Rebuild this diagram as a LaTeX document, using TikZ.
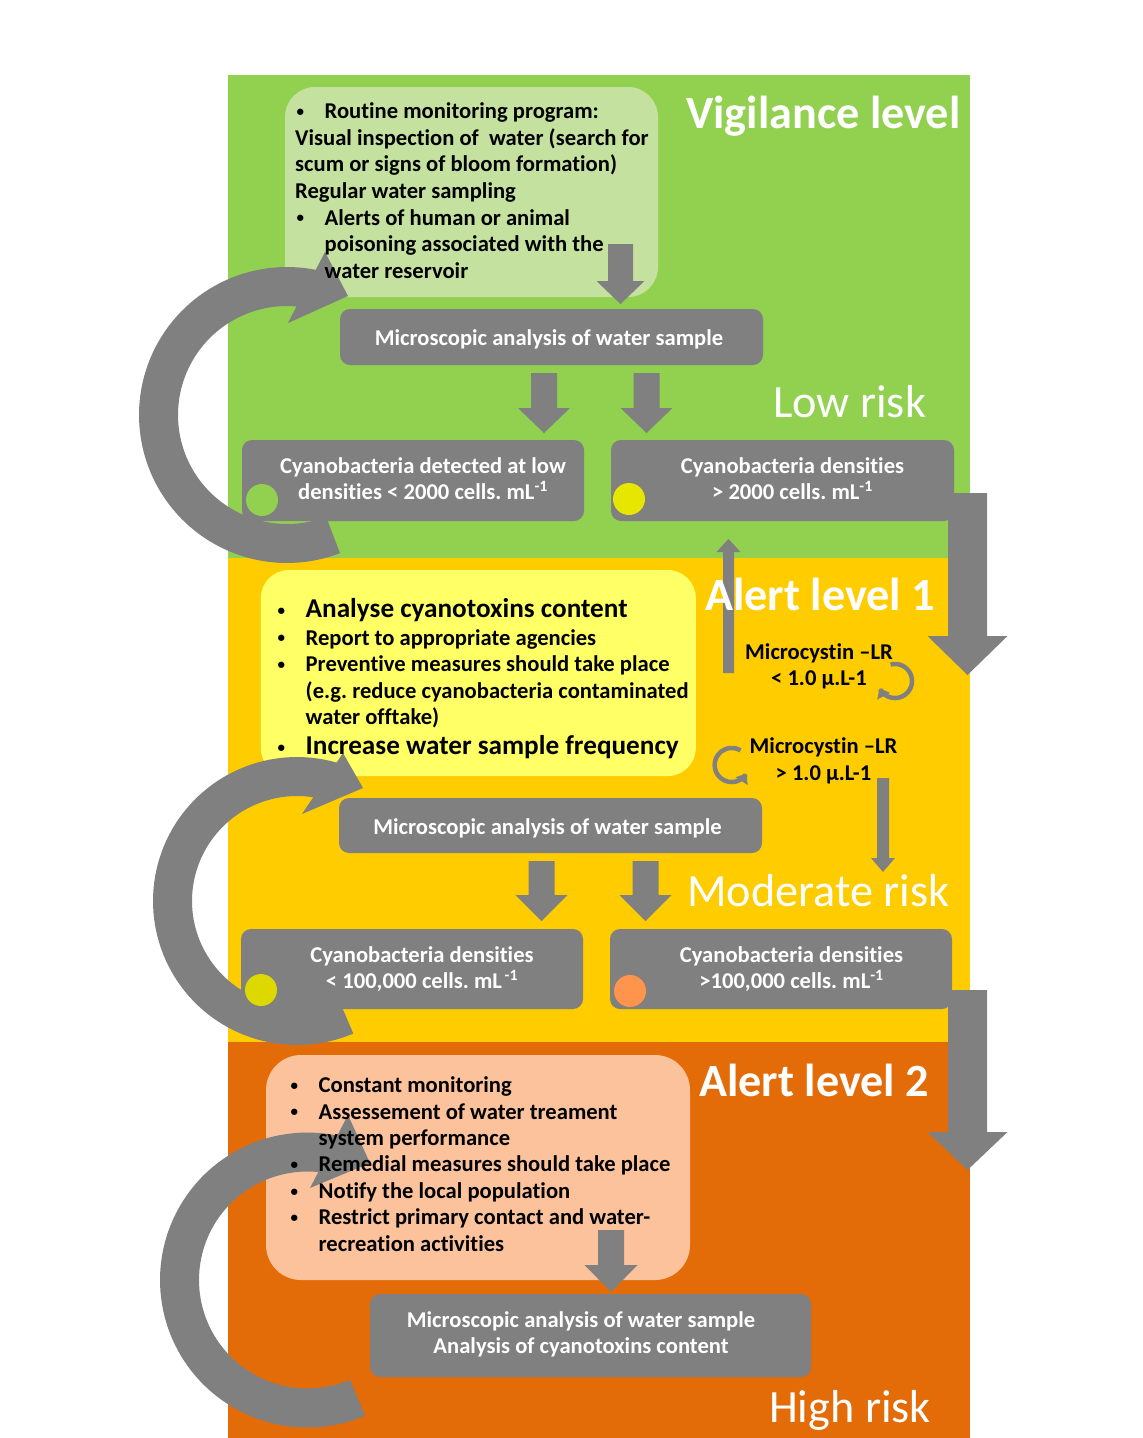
\documentclass[tikz,border=0pt]{standalone}
\usepackage{fontspec}
\setmainfont{Carlito}[Ligatures=NoCommon]
\usetikzlibrary{arrows.meta}
\definecolor{bandgreen}{HTML}{92D050}
\definecolor{bandgold}{HTML}{FFCC00}
\definecolor{bandorange}{HTML}{E36C09}
\definecolor{lgreen}{HTML}{C5E1A0}
\definecolor{lyellow}{HTML}{FFFF66}
\definecolor{peach}{HTML}{FBC29C}
\definecolor{gr}{HTML}{808080}
\definecolor{cyellow}{HTML}{E6E600}
\definecolor{colive}{HTML}{DDD800}
\definecolor{corange}{HTML}{FF944D}
\newcommand\bul{\makebox[29.5pt][l]{\hspace{1.5pt}\raisebox{2.2pt}{\fontsize{15}{15}\selectfont\textbullet}}}
\newcommand\mystrut[1]{\rule{0pt}{#1}}
\newcommand\myblockarrow[6]{\fill[gr] (#1-#5,#2) -- (#1+#5,#2) -- (#1+#5,#3) -- (#1+#6,#3) -- (#1,#4) -- (#1-#6,#3) -- (#1-#5,#3) -- cycle;}
\tikzset{
  grbox/.style={fill=gr, rounded corners=10pt, inner sep=0, draw=none},
  lbox/.style={rounded corners=30pt, inner sep=0, draw=none},
  bodytxt/.style={inner sep=0, align=left, anchor=north west, text=black, font=\bfseries\fontsize{22.6}{26.6}\selectfont},
  boxtxt/.style={inner sep=0, align=center, anchor=north, text=white, font=\bfseries\fontsize{22.6}{26}\selectfont},
  mctxt/.style={inner sep=0, align=center, anchor=north, text=black, font=\bfseries\fontsize{22.6}{26.5}\selectfont},
  title/.style={inner sep=0, anchor=base west, text=white, font=\bfseries\fontsize{46.2}{50}\selectfont},
  risk/.style={inner sep=0, anchor=base west, text=white, font=\fontsize{46.2}{50}\selectfont},
  dot/.style={circle, inner sep=0, minimum size=32pt, draw=none},
  loop/.style={gr, line width=4.5pt, -{Triangle[width=14pt,length=9pt]}}
}
\begin{document}
\frenchspacing
\begin{tikzpicture}[x=1pt,y=-1pt]
\useasboundingbox (0,0) rectangle (1143,1438);
\fill[white] (0,0) rectangle (1143,1438);
% bands
\fill[bandgreen] (228,75) rectangle (970,558);
\fill[bandgold] (228,558) rectangle (970,1042);
\fill[bandorange] (228,1042) rectangle (970,1438);
% light boxes
\node[lbox, fill=lgreen, minimum width=373pt, minimum height=210pt] (lg) at (471.5,192) {};
\node[lbox, fill=lyellow, minimum width=435pt, minimum height=206pt, rounded corners=28pt] (ly) at (478.3,673) {};
\node[lbox, fill=peach, minimum width=424pt, minimum height=225pt, rounded corners=35pt] (pe) at (478,1167.5) {};
% gray boxes
\node[grbox, minimum width=423pt, minimum height=56pt] (m1) at (551.5,337) {};
\node[grbox, minimum width=342pt, minimum height=81pt] (b1l) at (413,480.5) {};
\node[grbox, minimum width=343pt, minimum height=81pt] (b1r) at (782.5,480.5) {};
\node[grbox, minimum width=423pt, minimum height=55pt] (m2) at (550.5,825.5) {};
\node[grbox, minimum width=342pt, minimum height=80pt] (b2l) at (412,969) {};
\node[grbox, minimum width=342pt, minimum height=80pt] (b2r) at (781,969) {};
\node[grbox, minimum width=441pt, minimum height=83pt] (m3) at (590.5,1335.5) {};
% block arrows
\myblockarrow{620.5}{244}{281}{304}{12.5}{24}
\myblockarrow{544}{373}{408}{433}{13}{26}
\myblockarrow{646.5}{373}{408}{433}{13}{26}
\myblockarrow{967.5}{493}{636}{675}{19.5}{40}
\myblockarrow{728.5}{673}{552}{539}{5.5}{12}
\myblockarrow{883}{778}{858}{872}{6}{12}
\myblockarrow{541.5}{861}{895}{921}{13}{26}
\myblockarrow{645.5}{861}{895}{921}{13}{26}
\myblockarrow{967.5}{990}{1132}{1170}{19.5}{40}
\myblockarrow{611}{1230}{1265}{1292}{13}{26.5}
% big cycle arrows
\fill[gr] plot[domain=69:281.2,samples=90] ({287+148*cos(\x)},{415+148*sin(\x)}) -- (325,252) -- (348,296) -- (288,323) -- plot[domain=275:69,samples=90] ({287+109*cos(\x)},{415+109*sin(\x)}) -- cycle;
\fill[gr] plot[domain=67:285.96,samples=90] ({297+144*cos(\x)},{901+144*sin(\x)}) -- (343,753) -- (363,788) -- (302,814) -- plot[domain=278.9:67,samples=90] ({297+105*cos(\x)},{901+105*sin(\x)}) -- cycle;
\fill[gr] plot[domain=67:281.65,samples=90] ({307.5+147.5*cos(\x)},{1280+147.5*sin(\x)}) -- (348,1115) -- (370,1163) -- (310,1188) -- plot[domain=275.7:67,samples=90] ({307.5+108.5*cos(\x)},{1280+108.5*sin(\x)}) -- cycle;
% small loop arrows
\draw[loop] plot[domain=255:515,samples=60] ({895+17*cos(\x)},{681+17*sin(\x)});
\draw[loop] plot[domain=301:30,samples=60] ({731.7+17*cos(\x)},{765+17*sin(\x)});
% texts in light boxes
\node[bodytxt] (gtxt) at (295,100.5) {\mystrut{18pt}\bul Routine monitoring program:\\
Visual inspection of~ water (search for\\
scum or signs of bloom formation)\\
Regular water sampling\\
\bul Alerts of human or animal\\
\hspace*{29.5pt}poisoning associated with the\\
\hspace*{29.5pt}water reservoir};
\node[bodytxt] (ytxt) at (276,595) {{\fontsize{27.2}{30}\selectfont\mystrut{22pt}\bul Analyse cyanotoxins content}\\[1.3pt]
\bul Report to appropriate agencies\\
\bul Preventive measures should take place\\
\hspace*{29.5pt}(e.g. reduce cyanobacteria contaminated\\
\hspace*{29.5pt}water offtake)\\[3.3pt]
{\fontsize{27.2}{30}\selectfont\bul Increase water sample frequency}};
\node[bodytxt, font=\bfseries\fontsize{22.6}{26.4}\selectfont] (ptxt) at (289,1074.5) {\mystrut{18pt}\bul Constant monitoring\\
\bul Assessement of water treament\\
\hspace*{29.5pt}system performance\\
\bul Remedial measures should take place\\
\bul Notify the local population\\
\bul Restrict primary contact and water-\\
\hspace*{29.5pt}recreation activities};
% texts in gray boxes
\node[boxtxt, anchor=base] (m1t) at (549,345) {Microscopic analysis of water sample};
\node[boxtxt] (b1lt) at (423,455) {\mystrut{18pt}Cyanobacteria detected at low\\densities < 2000 cells. mL\textsuperscript{-1}};
\node[boxtxt] (b1rt) at (792.5,455) {\mystrut{18pt}Cyanobacteria densities\\> 2000 cells. mL\textsuperscript{-1}};
\node[boxtxt, anchor=base] (m2t) at (547.5,834) {Microscopic analysis of water sample};
\node[boxtxt] (b2lt) at (422,944) {\mystrut{18pt}Cyanobacteria densities\\< 100,000 cells. mL\textsuperscript{\,-1}};
\node[boxtxt] (b2rt) at (791.5,944) {\mystrut{18pt}Cyanobacteria densities\\>100,000 cells. mL\textsuperscript{-1}};
\node[boxtxt] (m3t) at (581,1309) {\mystrut{18pt}Microscopic analysis of water sample\\Analysis of cyanotoxins content};
% microcystin labels
\node[mctxt] (mc1) at (819,641) {\mystrut{18pt}Microcystin \textendash LR\\< 1.0 µ.L-1};
\node[mctxt] (mc2) at (823.5,735.5) {\mystrut{18pt}Microcystin \textendash LR\\> 1.0 µ.L-1};
% titles
\node[title] (t1) at (686,128) {Vigilance level};
\node[title] (t2) at (705,610) {Alert level 1};
\node[title] (t3) at (699,1096) {Alert level 2};
\node[risk] (r1) at (773,417) {Low risk};
\node[risk] (r2) at (687,906) {Moderate risk};
\node[risk] (r3) at (769,1422) {High risk};
% dots
\node[dot, fill=bandgreen] (d1) at (262,500) {};
\node[dot, fill=cyellow] (d2) at (629,499) {};
\node[dot, fill=colive] (d3) at (261,990) {};
\node[dot, fill=corange] (d4) at (630,991) {};
\end{tikzpicture}
\end{document}
